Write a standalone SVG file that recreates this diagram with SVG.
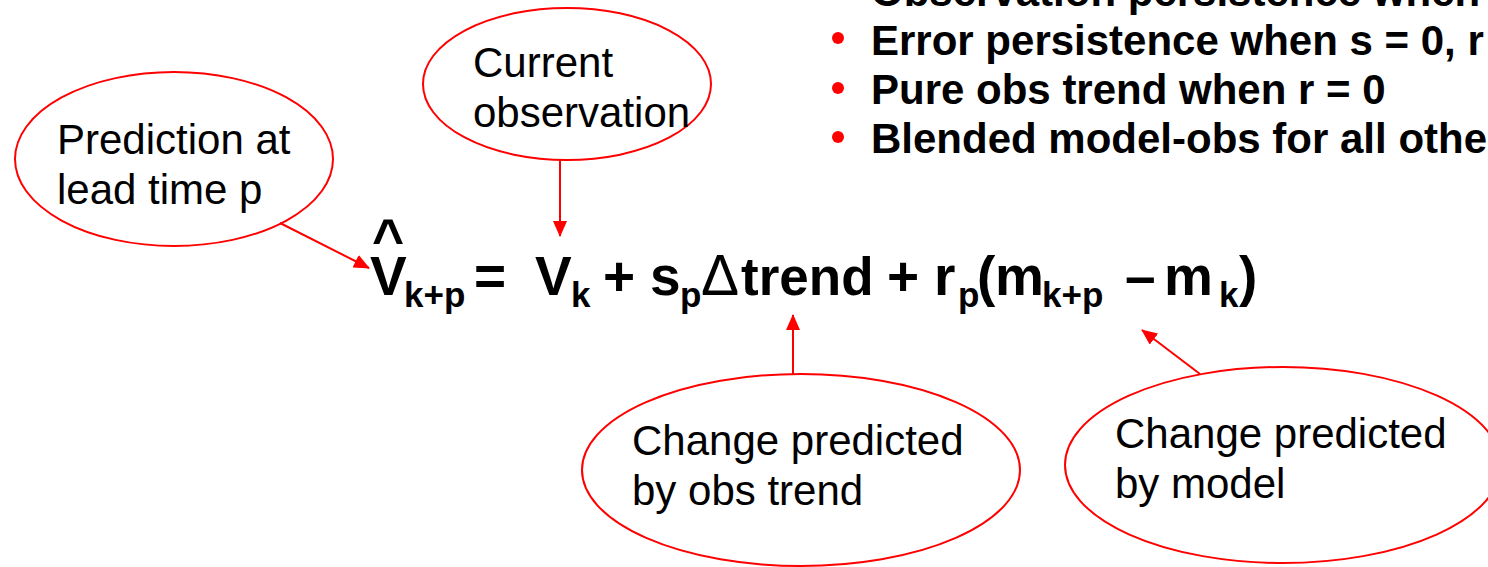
<svg xmlns="http://www.w3.org/2000/svg" width="1488" height="567" viewBox="0 0 1488 567">
<style>
.bubble{fill:none;stroke:#ff0000;stroke-width:2}
.lbl{font-family:"Liberation Sans",Arial,sans-serif;font-size:42px;fill:#000}
.bul{font-family:"Liberation Sans",Arial,sans-serif;font-size:42px;font-weight:bold;fill:#000}
.eq{font-family:"Liberation Sans",Arial,sans-serif;font-size:55px;font-weight:bold;fill:#000}
.sub{font-size:35px}
.conn{stroke:#ff0000;stroke-width:2;fill:none;marker-end:url(#ah)}
.dot{fill:#ff0000}
</style>
<defs>
<marker id="ah" markerUnits="userSpaceOnUse" markerWidth="16" markerHeight="14" refX="15" refY="7" orient="auto">
<path d="M0,0 L16,7 L0,14 Z" fill="#ff0000"/>
</marker>
</defs>
<rect width="1488" height="567" fill="#ffffff"/>

<g id="bullets">
<text class="bul" x="871" y="6">Observation persistence when</text>
<circle class="dot" cx="838" cy="38" r="6"/>
<text class="bul" x="871" y="55">Error persistence when s = 0, r</text>
<circle class="dot" cx="838" cy="88" r="6"/>
<text class="bul" x="871" y="104">Pure obs trend when r = 0</text>
<circle class="dot" cx="838" cy="137" r="6"/>
<text class="bul" x="871" y="153">Blended model-obs for all othe</text>
</g>

<g id="equation">
<text class="eq" x="372" y="258">^</text>
<text class="eq" y="295"><tspan x="370">V</tspan><tspan class="sub" x="404" y="307">k+p</tspan><tspan x="474" y="295">=</tspan><tspan x="535">V</tspan><tspan class="sub" x="571" y="307">k</tspan><tspan x="603" y="295">+</tspan><tspan x="650">s</tspan><tspan class="sub" x="680" y="307">p</tspan><tspan x="701" y="295" font-weight="normal" font-size="57">Δ</tspan><tspan x="741" font-size="53">trend</tspan><tspan x="887">+</tspan><tspan x="934">r</tspan><tspan class="sub" x="958" y="307">p</tspan><tspan x="977" y="295">(</tspan><tspan x="995">m</tspan><tspan class="sub" x="1042" y="307">k+p</tspan><tspan x="1125" y="295">–</tspan><tspan x="1164">m</tspan><tspan class="sub" x="1219" y="307">k</tspan><tspan x="1239" y="295">)</tspan></text>
</g>

<g id="node-prediction">
<ellipse class="bubble" cx="174" cy="159" rx="159" ry="87"/>
<text class="lbl" x="57" y="154">Prediction at</text>
<text class="lbl" x="57" y="204">lead time p</text>
</g>

<g id="node-current">
<ellipse class="bubble" cx="567" cy="84" rx="144" ry="76"/>
<text class="lbl" x="473" y="77">Current</text>
<text class="lbl" x="473" y="127">observation</text>
</g>

<g id="node-obs-trend">
<ellipse class="bubble" cx="801" cy="470" rx="219" ry="96"/>
<text class="lbl" x="632" y="455">Change predicted</text>
<text class="lbl" x="632" y="505">by obs trend</text>
</g>

<g id="node-model">
<ellipse class="bubble" cx="1283" cy="465" rx="218" ry="98"/>
<text class="lbl" x="1115" y="448">Change predicted</text>
<text class="lbl" x="1115" y="498">by model</text>
</g>

<g id="connectors">
<line class="conn" x1="280" y1="223" x2="369" y2="268"/>
<line class="conn" x1="560" y1="160" x2="560" y2="236"/>
<line class="conn" x1="793" y1="374" x2="793" y2="315"/>
<line class="conn" x1="1200" y1="374" x2="1142" y2="330"/>
</g>
</svg>
